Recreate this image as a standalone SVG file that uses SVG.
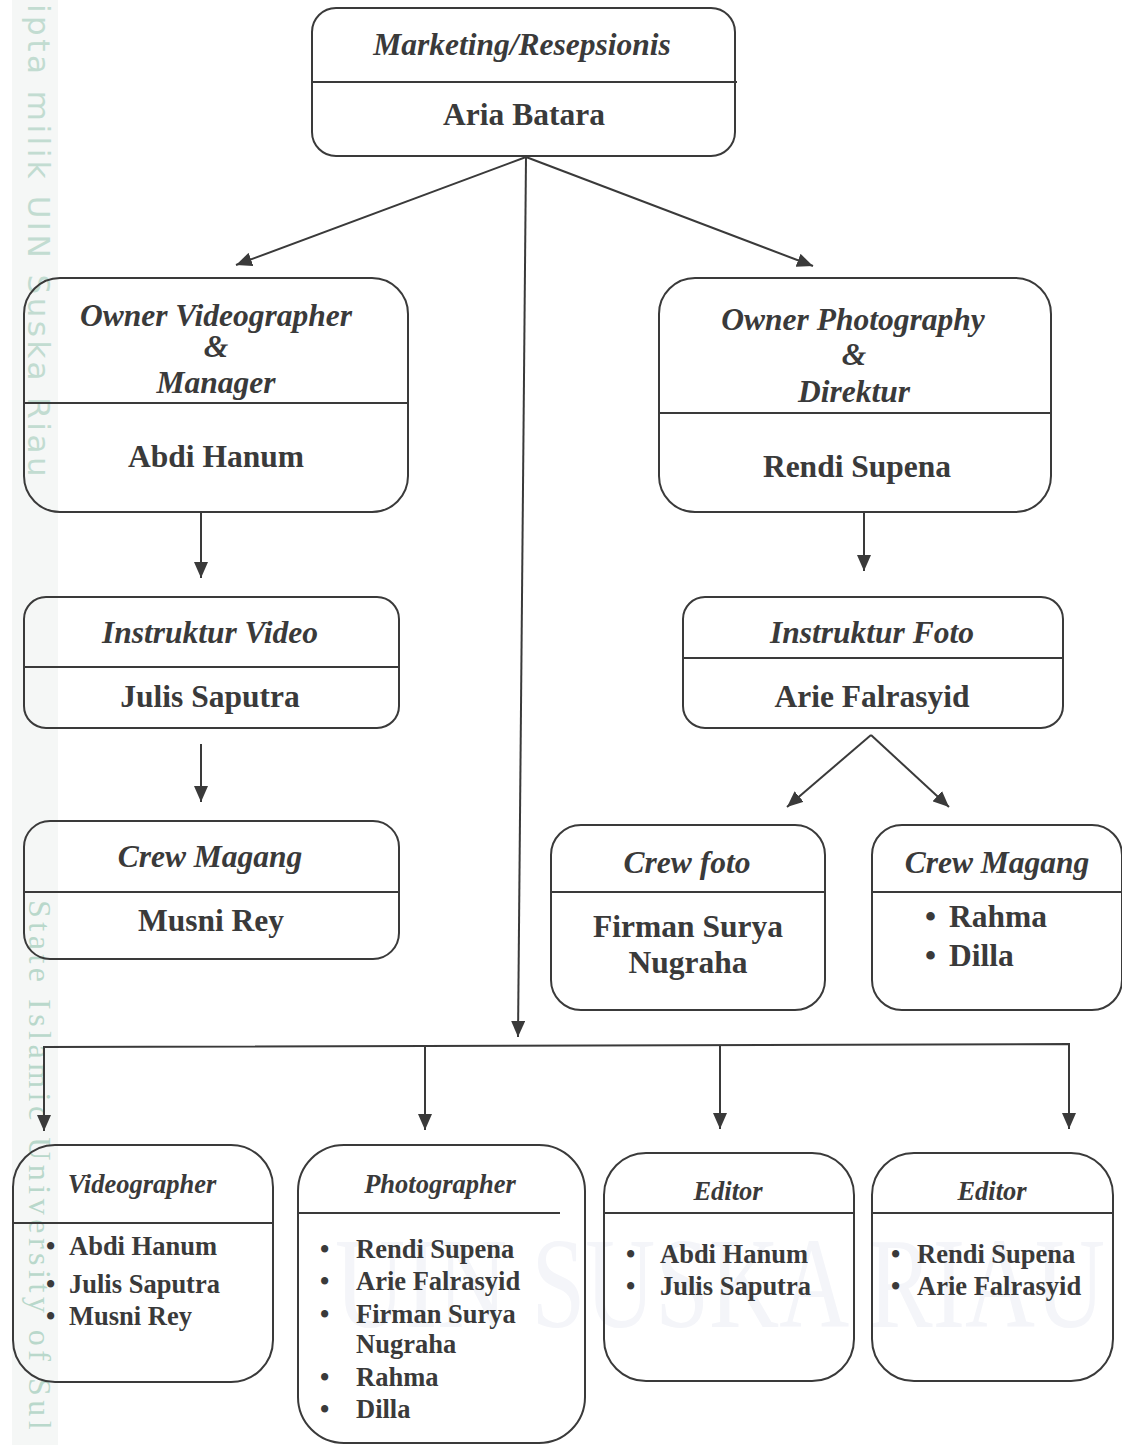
<svg xmlns="http://www.w3.org/2000/svg" width="1122" height="1445" viewBox="0 0 1122 1445">
<defs>
<style>
.box{fill:none;stroke:#3a3a3a;stroke-width:2}
.div{stroke:#3a3a3a;stroke-width:2}
.t{font-family:"Liberation Serif","Times New Roman",serif;fill:#3a3a3a;font-weight:bold}
.ti{font-style:italic}
.c{text-anchor:middle}
.big{font-size:31.5px}
.sm{font-size:26.5px}
.con{fill:none;stroke:#3a3a3a;stroke-width:2}
.wm1{font-family:"DejaVu Sans","Liberation Sans",sans-serif;font-size:31px;fill:#c2dcd1;letter-spacing:3.5px}
.wm2{font-family:"Liberation Serif","Times New Roman",serif;font-size:32px;fill:#b9d8cb;letter-spacing:4.5px}
</style>
<marker id="ah" markerUnits="userSpaceOnUse" markerWidth="18" markerHeight="14" refX="16" refY="7" orient="auto">
<path d="M0,0 L16,7 L0,14 z" fill="#3a3a3a"/>
</marker>
</defs>
<rect width="1122" height="1445" fill="#ffffff"/>
<g id="watermark">
<rect x="12" y="0" width="46" height="1445" fill="#f5f7f6"/>
<text class="wm1" transform="translate(28,4) rotate(90)" x="0" y="0">ipta milik UIN Suska Riau</text>
<text class="wm2" transform="translate(29,900) rotate(90)" x="0" y="0">State Islamic University of Sul</text>
<text x="335" y="1327" font-family="Liberation Serif, serif" font-size="130" fill="#f4f5f9" textLength="770" lengthAdjust="spacingAndGlyphs">UIN SUSKA RIAU</text>
</g>
<g id="connectors">
<line class="con" x1="526" y1="157" x2="236" y2="265" marker-end="url(#ah)"/>
<line class="con" x1="526" y1="157" x2="813" y2="266" marker-end="url(#ah)"/>
<line class="con" x1="526" y1="157" x2="518" y2="1037" marker-end="url(#ah)"/>
<line class="con" x1="201" y1="513" x2="201" y2="578" marker-end="url(#ah)"/>
<line class="con" x1="201" y1="744" x2="201" y2="802" marker-end="url(#ah)"/>
<line class="con" x1="864" y1="513" x2="864" y2="571" marker-end="url(#ah)"/>
<line class="con" x1="871" y1="735" x2="787" y2="807" marker-end="url(#ah)"/>
<line class="con" x1="871" y1="735" x2="949" y2="807" marker-end="url(#ah)"/>
<polyline class="con" points="44,1060 44,1047 1069,1044 1069,1046"/>
<line class="con" x1="44" y1="1047" x2="44" y2="1131" marker-end="url(#ah)"/>
<line class="con" x1="425" y1="1045" x2="425" y2="1130" marker-end="url(#ah)"/>
<line class="con" x1="720" y1="1045" x2="720" y2="1129" marker-end="url(#ah)"/>
<line class="con" x1="1069" y1="1044" x2="1069" y2="1129" marker-end="url(#ah)"/>
</g>
<g id="marketing">
<rect class="box" x="312" y="8" width="423" height="148" rx="24"/>
<line class="div" x1="312" y1="82" x2="737" y2="82"/>
<text class="t ti c big" x="522" y="55">Marketing/Resepsionis</text>
<text class="t c big" x="524" y="125">Aria Batara</text>
</g>
<g id="owner-video">
<rect class="box" x="24" y="278" width="384" height="234" rx="36"/>
<line class="div" x1="24" y1="403" x2="408" y2="403"/>
<text class="t ti c big" x="216" y="326">Owner Videographer</text>
<text class="t ti c big" x="216" y="357">&amp;</text>
<text class="t ti c big" x="216" y="393">Manager</text>
<text class="t c big" x="216" y="467">Abdi Hanum</text>
</g>
<g id="owner-photo">
<rect class="box" x="659" y="278" width="392" height="234" rx="36"/>
<line class="div" x1="659" y1="413" x2="1051" y2="413"/>
<text class="t ti c big" x="853" y="330">Owner Photography</text>
<text class="t ti c big" x="854" y="365">&amp;</text>
<text class="t ti c big" x="854" y="402">Direktur</text>
<text class="t c big" x="857" y="477">Rendi Supena</text>
</g>
<g id="instruktur-video">
<rect class="box" x="24" y="597" width="375" height="131" rx="22"/>
<line class="div" x1="24" y1="667" x2="399" y2="667"/>
<text class="t ti c big" x="210" y="643">Instruktur Video</text>
<text class="t c big" x="210" y="707">Julis Saputra</text>
</g>
<g id="crew-magang-video">
<rect class="box" x="24" y="821" width="375" height="138" rx="26"/>
<line class="div" x1="24" y1="892" x2="399" y2="892"/>
<text class="t ti c big" x="210" y="867">Crew Magang</text>
<text class="t c big" x="211" y="931">Musni Rey</text>
</g>
<g id="instruktur-foto">
<rect class="box" x="683" y="597" width="380" height="131" rx="22"/>
<line class="div" x1="683" y1="658" x2="1063" y2="658"/>
<text class="t ti c big" x="872" y="643">Instruktur Foto</text>
<text class="t c big" x="872" y="707">Arie Falrasyid</text>
</g>
<g id="crew-foto">
<rect class="box" x="551" y="825" width="274" height="185" rx="30"/>
<line class="div" x1="551" y1="892" x2="825" y2="892"/>
<text class="t ti c big" x="687" y="873">Crew foto</text>
<text class="t c big" x="688" y="937">Firman Surya</text>
<text class="t c big" x="688" y="973">Nugraha</text>
</g>
<g id="crew-magang-foto">
<rect class="box" x="872" y="825" width="250" height="185" rx="30"/>
<line class="div" x1="872" y1="892" x2="1122" y2="892"/>
<text class="t ti c big" x="997" y="873">Crew Magang</text>
<text class="t big" x="925" y="927">•</text>
<text class="t big" x="949" y="927">Rahma</text>
<text class="t big" x="925" y="966">•</text>
<text class="t big" x="949" y="966">Dilla</text>
</g>
<g id="videographer">
<rect class="box" x="13" y="1145" width="260" height="237" rx="42"/>
<line class="div" x1="13" y1="1223" x2="273" y2="1223"/>
<text class="t ti c sm" x="142" y="1193">Videographer</text>
<text class="t sm" x="46" y="1255">•</text>
<text class="t sm" x="69" y="1255">Abdi Hanum</text>
<text class="t sm" x="46" y="1293">•</text>
<text class="t sm" x="69" y="1293">Julis Saputra</text>
<text class="t sm" x="46" y="1325">•</text>
<text class="t sm" x="69" y="1325">Musni Rey</text>
</g>
<g id="photographer">
<rect class="box" x="298" y="1145" width="287" height="298" rx="46"/>
<line class="div" x1="298" y1="1213" x2="560" y2="1213"/>
<text class="t ti c sm" x="440" y="1193">Photographer</text>
<text class="t sm" x="320" y="1258">•</text>
<text class="t sm" x="356" y="1258">Rendi Supena</text>
<text class="t sm" x="320" y="1290">•</text>
<text class="t sm" x="356" y="1290">Arie Falrasyid</text>
<text class="t sm" x="320" y="1323">•</text>
<text class="t sm" x="356" y="1323">Firman Surya</text>
<text class="t sm" x="356" y="1353">Nugraha</text>
<text class="t sm" x="320" y="1386">•</text>
<text class="t sm" x="356" y="1386">Rahma</text>
<text class="t sm" x="320" y="1418">•</text>
<text class="t sm" x="356" y="1418">Dilla</text>
</g>
<g id="editor-video">
<rect class="box" x="604" y="1153" width="250" height="228" rx="42"/>
<line class="div" x1="604" y1="1213" x2="854" y2="1213"/>
<text class="t ti c sm" x="728" y="1200">Editor</text>
<text class="t sm" x="626" y="1263">•</text>
<text class="t sm" x="660" y="1263">Abdi Hanum</text>
<text class="t sm" x="626" y="1295">•</text>
<text class="t sm" x="660" y="1295">Julis Saputra</text>
</g>
<g id="editor-photo">
<rect class="box" x="872" y="1153" width="241" height="228" rx="42"/>
<line class="div" x1="872" y1="1213" x2="1113" y2="1213"/>
<text class="t ti c sm" x="992" y="1200">Editor</text>
<text class="t sm" x="891" y="1263">•</text>
<text class="t sm" x="917" y="1263">Rendi Supena</text>
<text class="t sm" x="891" y="1295">•</text>
<text class="t sm" x="917" y="1295">Arie Falrasyid</text>
</g>
</svg>
